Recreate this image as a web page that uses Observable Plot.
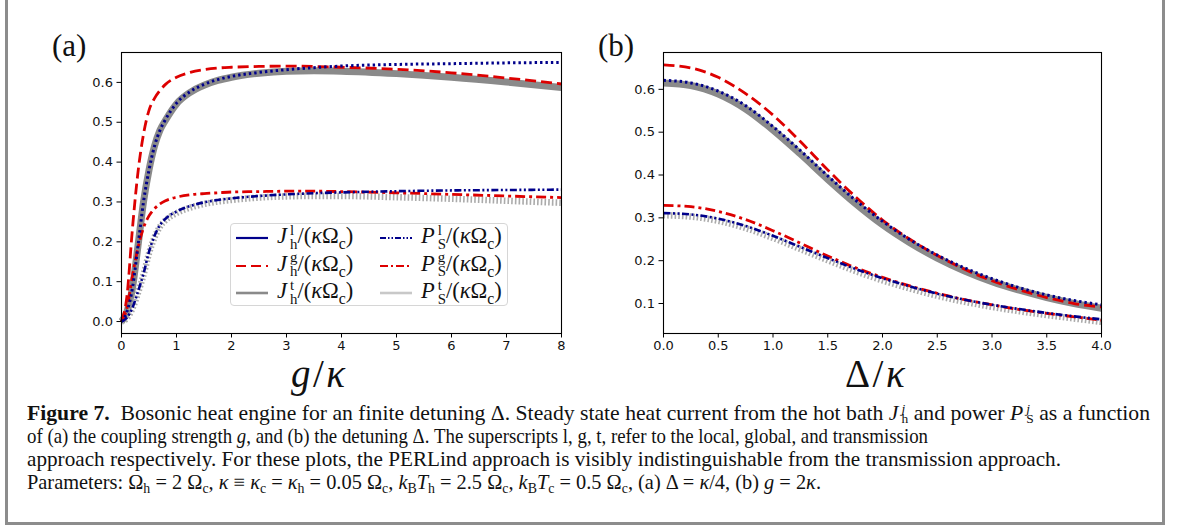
<!DOCTYPE html>
<html><head><meta charset="utf-8">
<script src="https://cdn.jsdelivr.net/npm/d3@7"></script>
<script src="https://cdn.jsdelivr.net/npm/@observablehq/plot@0.6"></script>
<style>
body{margin:0;background:#fff;}
#fig{position:relative;width:1179px;height:528px;background:#fff;overflow:hidden;font-family:"Liberation Serif",serif;color:#111;}
#pa svg text, #pb svg text{font-size:13px !important;font-family:"DejaVu Sans",sans-serif !important;fill:#111;}
.bd{position:absolute;background:#8c8c8c;}
.pl{position:absolute;font-family:"Liberation Serif",serif;font-size:31px;line-height:1;}
.axl{position:absolute;font-family:"Liberation Serif",serif;font-size:39px;line-height:24px;letter-spacing:2.5px;}
#legend{position:absolute;left:230px;top:223px;width:278px;height:83px;border:1px solid #d6d6d6;border-radius:4px;background:rgba(255,255,255,0.85);box-sizing:border-box;}
.li{position:absolute;height:26px;display:flex;align-items:center;font-size:22.5px;white-space:nowrap;}
.li svg{margin-right:9px;}
.ss{display:inline-block;vertical-align:middle;line-height:0.95;font-size:0.66em;margin-left:3px;text-align:left;position:relative;top:-0.1em;}
.ss span{display:block;}
.cap{position:absolute;left:27px;font-size:21px;white-space:nowrap;transform-origin:0 0;line-height:23px;}
.cap .ss{line-height:0.78;font-size:0.62em;margin-left:3px;}
.cap sub{font-size:0.68em;vertical-align:-0.25em;line-height:0;}
</style></head>
<body>
<div id="fig">
  <div class="bd" style="left:5px;top:0;width:3px;height:525px"></div>
  <div class="bd" style="left:1162px;top:0;width:3px;height:525px"></div>
  <div class="bd" style="left:5px;top:522px;width:1160px;height:3px"></div>
  <div id="pa" style="position:absolute;left:0;top:0"></div>
  <div id="pb" style="position:absolute;left:580px;top:0"></div>
  <div class="pl" style="left:52px;top:30px">(a)</div>
  <div class="pl" style="left:598px;top:30px">(b)</div>
  <div class="axl" style="left:291px;top:362px"><i>g</i>/<i>κ</i></div>
  <div class="axl" style="left:845px;top:362px">Δ/<i>κ</i></div>
  <div id="legend"></div>
</div>
<script>
// ---------- data: panel (a), x = g/kappa ----------
const gA   = [0,0.1,0.2,0.3,0.4,0.5,0.6,0.7,0.8,1.0,1.25,1.5,1.75,2,2.5,3,3.5,4,5,6,7,8];
const JlA  = [0,0.025,0.085,0.19,0.30,0.38,0.44,0.48,0.507,0.548,0.577,0.595,0.607,0.615,0.625,0.632,0.637,0.641,0.645,0.647,0.649,0.650];
const JgA  = [0,0.065,0.235,0.375,0.47,0.53,0.56,0.58,0.595,0.613,0.625,0.632,0.636,0.638,0.640,0.641,0.640,0.638,0.633,0.624,0.611,0.596];
const JtA  = [0,0.025,0.085,0.19,0.30,0.38,0.44,0.48,0.505,0.546,0.575,0.593,0.605,0.613,0.623,0.628,0.629,0.628,0.622,0.613,0.601,0.587];
const PlA  = [0,0.010,0.035,0.075,0.12,0.175,0.215,0.242,0.258,0.276,0.290,0.299,0.305,0.309,0.315,0.319,0.322,0.324,0.327,0.329,0.330,0.331];
const PgA  = [0,0.035,0.115,0.185,0.235,0.265,0.283,0.295,0.303,0.312,0.318,0.321,0.323,0.325,0.326,0.327,0.327,0.326,0.323,0.319,0.315,0.311];
const PtA  = [0,0.009,0.033,0.072,0.117,0.171,0.211,0.238,0.254,0.272,0.286,0.295,0.301,0.305,0.311,0.314,0.315,0.315,0.312,0.308,0.303,0.298];
// ---------- data: panel (b), x = Delta/kappa ----------
const dB   = [0,0.25,0.5,0.75,1.0,1.25,1.5,1.75,2.0,2.25,2.5,2.75,3.0,3.25,3.5,3.75,4.0];
const JlB  = [0.621,0.615,0.596,0.562,0.513,0.457,0.398,0.342,0.292,0.249,0.213,0.183,0.158,0.137,0.120,0.107,0.097];
const JgB  = [0.657,0.650,0.628,0.590,0.540,0.478,0.412,0.350,0.295,0.250,0.212,0.180,0.153,0.132,0.114,0.100,0.092];
const JtB  = [0.615,0.609,0.589,0.554,0.505,0.449,0.390,0.334,0.284,0.242,0.206,0.176,0.151,0.131,0.114,0.100,0.089];
const PlB  = [0.311,0.308,0.298,0.281,0.258,0.232,0.206,0.181,0.159,0.140,0.123,0.109,0.097,0.087,0.078,0.070,0.063];
const PgB  = [0.329,0.326,0.315,0.296,0.270,0.241,0.211,0.184,0.161,0.141,0.124,0.109,0.097,0.086,0.077,0.069,0.061];
const PtB  = [0.306,0.303,0.293,0.276,0.253,0.227,0.201,0.176,0.154,0.135,0.118,0.104,0.092,0.082,0.073,0.065,0.057];
// ---------- ticks ----------
const xTicksA = [0,1,2,3,4,5,6,7,8];
const xTicksB = [0,0.5,1.0,1.5,2.0,2.5,3.0,3.5,4.0];
const yTicksA = [0,0.1,0.2,0.3,0.4,0.5,0.6];
const yTicksB = [0.1,0.2,0.3,0.4,0.5,0.6];

const NAVY = "#00008b", RED = "#dd0000", GRAY = "#8a8a8a", LGRAY = "#ababab";
const styles = {
  Jt: {stroke: GRAY, strokeWidth: 7},
  Pt: {stroke: LGRAY, strokeWidth: 6.5, strokeDasharray: "1.6,2.1"},
  Jg: {stroke: RED, strokeWidth: 2.8, strokeDasharray: "11,5"},
  Pg: {stroke: RED, strokeWidth: 2.8, strokeDasharray: "10,4,3,4"},
  Jl: {stroke: NAVY, strokeWidth: 3, strokeDasharray: "2.4,3"},
  Pl: {stroke: NAVY, strokeWidth: 2.6, strokeDasharray: "7,2.5,2,2.5,2,2.5"}
};
function rows(xs, ys){ return xs.map((x,i)=>({x, y: ys[i]})); }

function panel(xs, series, opt){
  const order = ["Jt","Pt","Jg","Pg","Jl","Pl"];
  return Plot.plot({
    width: 590, height: 390,
    marginLeft: opt.ml, marginRight: 590 - opt.ml - 438 + (opt.adj||0), marginTop: 52, marginBottom: 57,
    x: {domain: opt.xd}, y: {domain: opt.yd},
    style: {fontFamily: "DejaVu Sans", fontSize: "13px", color: "black", background: "transparent", overflow: "visible"},
    marks: [
      ...order.map(k => Plot.line(rows(xs, series[k]), {x: "x", y: "y", curve: "monotone-x", strokeLinecap: "butt", ...styles[k]})),
      Plot.frame({stroke: "black", strokeWidth: 1.1}),
      Plot.axisX({ticks: opt.xt, tickFormat: opt.xf, tickSize: 4.5, tickPadding: 3, fontSize: 13, label: null}),
      Plot.axisY({ticks: opt.yt, tickFormat: ".1f", tickSize: 4.5, tickPadding: 4, fontSize: 13, label: null})
    ]
  });
}
document.getElementById("pa").append(panel(gA, {Jl:JlA,Jg:JgA,Jt:JtA,Pl:PlA,Pg:PgA,Pt:PtA},
  {ml: 121, adj: -2, xd: [0,8], yd: [-0.03,0.675], xt: xTicksA, xf: "d", yt: yTicksA}));
document.getElementById("pb").append(panel(dB, {Jl:JlB,Jg:JgB,Jt:JtB,Pl:PlB,Pg:PgB,Pt:PtB},
  {ml: 83, adj: 0, xd: [0,4], yd: [0.030,0.686], xt: xTicksB, xf: ".1f", yt: yTicksB}));

// ---------- legend ----------
const legendItems = [
  {k:"Jl", sym:"J", sup:"l", sub:"h", col:0, row:0, sample:{stroke:NAVY, w:2.2, dash:null}},
  {k:"Jg", sym:"J", sup:"g", sub:"h", col:0, row:1, sample:{stroke:RED, w:2.2, dash:"10,5"}},
  {k:"Jt", sym:"J", sup:"t", sub:"h", col:0, row:2, sample:{stroke:GRAY, w:2.6, dash:null}},
  {k:"Pl", sym:"P", sup:"l", sub:"S", col:1, row:0, sample:{stroke:NAVY, w:2, dash:"6,2,1.5,2,1.5,2"}},
  {k:"Pg", sym:"P", sup:"g", sub:"S", col:1, row:1, sample:{stroke:RED, w:2.2, dash:"8,3,2,3"}},
  {k:"Pt", sym:"P", sup:"t", sub:"S", col:1, row:2, sample:{stroke:"#c8c8c8", w:2.6, dash:null}}
];
const lg = document.getElementById("legend");
for (const it of legendItems){
  const d = document.createElement("div");
  d.className = "li";
  d.style.left = (it.col ? 149 : 5) + "px";
  d.style.top = (1 + it.row * 27.5) + "px";
  const s = it.sample;
  d.innerHTML = `<svg width="32" height="10"><line x1="0" y1="5" x2="32" y2="5" stroke="${s.stroke}" stroke-width="${s.w}" ${s.dash?`stroke-dasharray="${s.dash}"`:""}/></svg>`+
    `<span><i>${it.sym}</i><span class="ss"><span>${it.sup}</span><span>${it.sub}</span></span>/(<i>κ</i>Ω<sub style="font-size:0.7em">c</sub>)</span>`;
  lg.append(d);
}

// ---------- caption ----------
const capLines = [
  `<b>Figure 7.</b>&nbsp;&nbsp;Bosonic heat engine for an finite detuning Δ. Steady state heat current from the hot bath <i>J</i><span class="ss"><span><i>j</i></span><span>h</span></span> and power <i>P</i><span class="ss"><span><i>j</i></span><span>S</span></span> as a function`,
  `of (a) the coupling strength <i>g</i>, and (b) the detuning Δ. The superscripts l, g, t, refer to the local, global, and transmission`,
  `approach respectively. For these plots, the PERLind approach is visibly indistinguishable from the transmission approach.`,
  `Parameters: Ω<sub>h</sub> = 2 Ω<sub>c</sub>, <i>κ</i> ≡ <i>κ</i><sub>c</sub> = <i>κ</i><sub>h</sub> = 0.05 Ω<sub>c</sub>, <i>k</i><sub>B</sub><i>T</i><sub>h</sub> = 2.5 Ω<sub>c</sub>, <i>k</i><sub>B</sub><i>T</i><sub>c</sub> = 0.5 Ω<sub>c</sub>, (a) Δ = <i>κ</i>/4, (b) <i>g</i> = 2<i>κ</i>.`
];
const capWidths = [1123, 901, 1034, 794];
const capTops = [402, 425, 448, 471];
capLines.forEach((html, i) => {
  const d = document.createElement("div");
  d.className = "cap";
  d.style.top = capTops[i] + "px";
  d.innerHTML = html;
  document.getElementById("fig").append(d);
  const w = d.getBoundingClientRect().width;
  d.style.transform = `scaleX(${capWidths[i] / w})`;
});
</script>
</body></html>
